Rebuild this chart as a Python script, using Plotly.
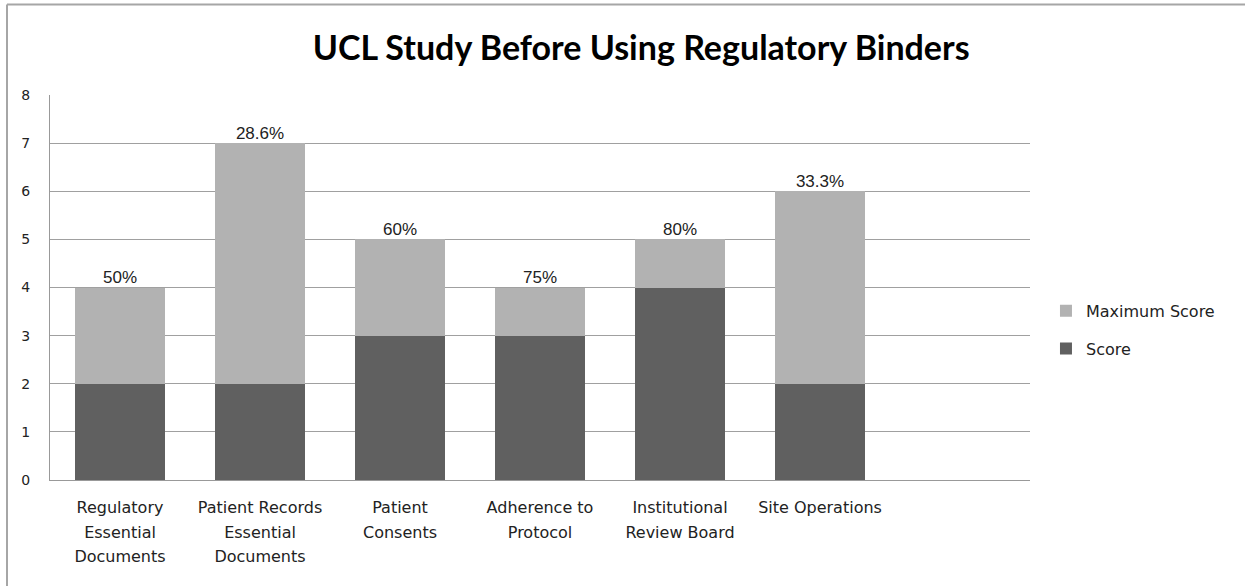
import plotly.graph_objects as go

categories = ["Regulatory|Essential|Documents", "Patient Records|Essential|Documents",
              "Patient|Consents", "Adherence to|Protocol", "Institutional|Review Board",
              "Site Operations", " "]
scores = [2, 2, 3, 3, 4, 2]
max_scores = [4, 7, 5, 4, 5, 6]
pct_labels = ["50%", "28.6%", "60%", "75%", "80%", "33.3%"]
y_ticks = [0, 1, 2, 3, 4, 5, 6, 7, 8]

cats = categories[:len(scores)]
remainder = [m - s for m, s in zip(max_scores, scores)]
tick_text = ["<br>".join('<span style="font-size:16px">%s</span>' % part for part in c.split("|"))
             for c in categories]

fig = go.Figure()
fig.add_trace(go.Bar(x=cats, y=scores, name="Score", marker=dict(color="#606060", line=dict(width=0)),
                     legendgroup="a", legendrank=2))
fig.add_trace(go.Bar(x=cats, y=remainder, name="Maximum Score", marker=dict(color="#b2b2b2", line=dict(width=0)),
                     legendgroup="b", legendrank=1))
fig.add_trace(go.Scatter(x=cats, y=max_scores, mode="text", text=pct_labels, textposition="top center",
                         textfont=dict(family="Liberation Sans", size=17, color="#222"), showlegend=False,
                         cliponaxis=False, hoverinfo="skip"))

fig.update_layout(
    width=1245, height=586,
    margin=dict(l=50, r=215, t=95, b=106),
    paper_bgcolor="white", plot_bgcolor="white",
    barmode="stack", bargap=0.357,
    title=dict(text="<b>UCL Study Before Using Regulatory Binders</b>", x=0.515, xanchor="center", y=0.918,
               yanchor="middle", font=dict(family="Lato", size=34, color="black")),
    legend=dict(x=1.0163, xanchor="left", y=0.39, yanchor="middle", traceorder="grouped",
                tracegroupgap=14, font=dict(family="DejaVu Sans", size=16, color="#222"),
                itemwidth=30),
    showlegend=True,
    xaxis=dict(type="category", categoryorder="array", categoryarray=categories,
               range=[-0.5, 6.5], tickvals=categories, ticktext=tick_text,
               showline=True, linecolor="#999", linewidth=1, showgrid=False, ticks="",
               tickfont=dict(family="DejaVu Sans", size=19, color="#222"), ticklabelstandoff=9),
    yaxis=dict(range=[0, 8], tickvals=y_ticks, showgrid=True, gridcolor="#a0a0a0", gridwidth=1,
               showline=True, linecolor="#999", linewidth=1, zeroline=False, ticks="",
               tickfont=dict(family="DejaVu Sans", size=14, color="#222"), ticklabelstandoff=16),
    shapes=[
        dict(type="line", xref="paper", yref="paper", x0=(7 - 50) / 980, x1=(1245 - 50) / 980,
             y0=1 + (95 - 4.5) / 385, y1=1 + (95 - 4.5) / 385, line=dict(color="#a6a6a6", width=2)),
        dict(type="line", xref="paper", yref="paper", x0=(7 - 50) / 980, x1=(7 - 50) / 980,
             y0=1 + (95 - 4.5) / 385, y1=-(586 - 480) / 385, line=dict(color="#a6a6a6", width=2)),
    ],
)

fig.write_html("out.html")
